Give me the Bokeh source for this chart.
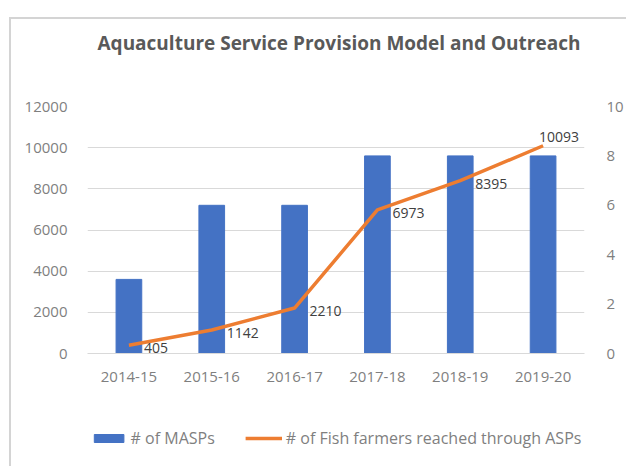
from bokeh.plotting import figure
from bokeh.models import (Range1d, LinearAxis, FactorRange, ColumnDataSource, Legend, LegendItem,
                          FixedTicker, LabelSet)
from bokeh.layouts import column
from bokeh.core.properties import value
from bokeh.embed import file_html
from bokeh.resources import INLINE

years = ["2014-15", "2015-16", "2016-17", "2017-18", "2018-19", "2019-20"]
masps = [3, 6, 6, 8, 8, 8]
farmers = [405, 1142, 2210, 6973, 8395, 10093]

FONT = "Open Sans"
GRAY = "#7f7f7f"
BLUE = "#4472C4"
ORANGE = "#ED7D31"
W = 615

n = len(years)
src = ColumnDataSource(dict(x=years, masps=masps, farmers=farmers,
                            lbl=[str(v) for v in farmers],
                            xo=[15] * (n - 1) + [-4],
                            yo=[-3] * (n - 1) + [9]))

# title strip
t = figure(width=W, height=42, output_backend="svg", toolbar_location=None,
           x_axis_location=None, y_axis_location=None,
           min_border_left=0, min_border_right=0, min_border_top=41, min_border_bottom=0)
t.outline_line_color = None
t.xgrid.grid_line_color = None
t.ygrid.grid_line_color = None
t.title.text = "Aquaculture Service Provision Model and Outreach"
t.title.text_font = FONT
t.title.text_font_size = "19px"
t.title.text_font_style = "bold"
t.title.text_color = "#595959"
t.title.align = "left"
t.title.offset = 10

p = figure(width=W, height=349, x_range=FactorRange(*years, range_padding=0),
           y_range=Range1d(0, 12000), output_backend="svg", toolbar_location=None,
           min_border_left=76, min_border_right=37, min_border_top=45, min_border_bottom=57)
p.extra_y_ranges = {"r": Range1d(0, 10)}
p.outline_line_color = None
p.background_fill_color = "white"
p.border_fill_color = "white"

bars = p.vbar(x="x", top="masps", width=0.31, source=src, color=BLUE, y_range_name="r")
line = p.line(x="x", y="farmers", source=src, line_color=ORANGE, line_width=3.5)

labels = LabelSet(x="x", y="farmers", text="lbl", source=src, x_offset="xo", y_offset="yo",
                  text_font=value(FONT), text_font_size="14px", text_color="#404040",
                  text_baseline="middle", text_align="left")
p.add_layout(labels)

yl = p.yaxis[0]
yl.ticker = FixedTicker(ticks=list(range(0, 12001, 2000)))
yr = LinearAxis(y_range_name="r", ticker=FixedTicker(ticks=list(range(0, 11, 2))))
p.add_layout(yr, "right")
for ax in (yl, yr, p.xaxis[0]):
    ax.major_label_text_font = FONT
    ax.major_label_text_font_size = "15px"
    ax.major_label_text_color = GRAY
    ax.major_tick_line_color = None
    ax.minor_tick_line_color = None
    ax.axis_line_color = None
p.xaxis[0].axis_line_color = "#d9d9d9"
p.xaxis[0].major_label_standoff = 12
yl.major_label_standoff = 14
yr.major_label_standoff = 16

p.xgrid.grid_line_color = None
p.ygrid.grid_line_color = "#d9d9d9"

# legend strip: a second figure whose renderers lie outside its visible range
q = figure(width=W, height=56, x_range=FactorRange(*years, range_padding=0),
           y_range=Range1d(50000, 60000), output_backend="svg", toolbar_location=None,
           x_axis_location=None, y_axis_location=None,
           min_border_left=0, min_border_right=0, min_border_top=0, min_border_bottom=0)
q.outline_line_color = None
q.xgrid.grid_line_color = None
q.ygrid.grid_line_color = None
qb = q.vbar(x="x", top="masps", width=0.31, source=src, color=BLUE)
ql = q.line(x="x", y="farmers", source=src, line_color=ORANGE, line_width=3.5)

legend = Legend(items=[LegendItem(label="# of MASPs", renderers=[qb]),
                       LegendItem(label="# of Fish farmers reached through ASPs", renderers=[ql])],
                orientation="horizontal", location="center", glyph_width=37, glyph_height=10,
                label_text_font=FONT, label_text_font_size="16px", label_text_color=GRAY,
                spacing=30, border_line_color=None, background_fill_alpha=0, label_standoff=4,
                margin=0, padding=5)
q.add_layout(legend, "center")

layout = column(t, p, q, spacing=0,
                styles={"border-left": "2px solid #d4d4d4", "border-top": "2px solid #d4d4d4",
                        "margin-left": "9px", "margin-top": "17px"})

open("out.html", "w").write(file_html(layout, INLINE))
